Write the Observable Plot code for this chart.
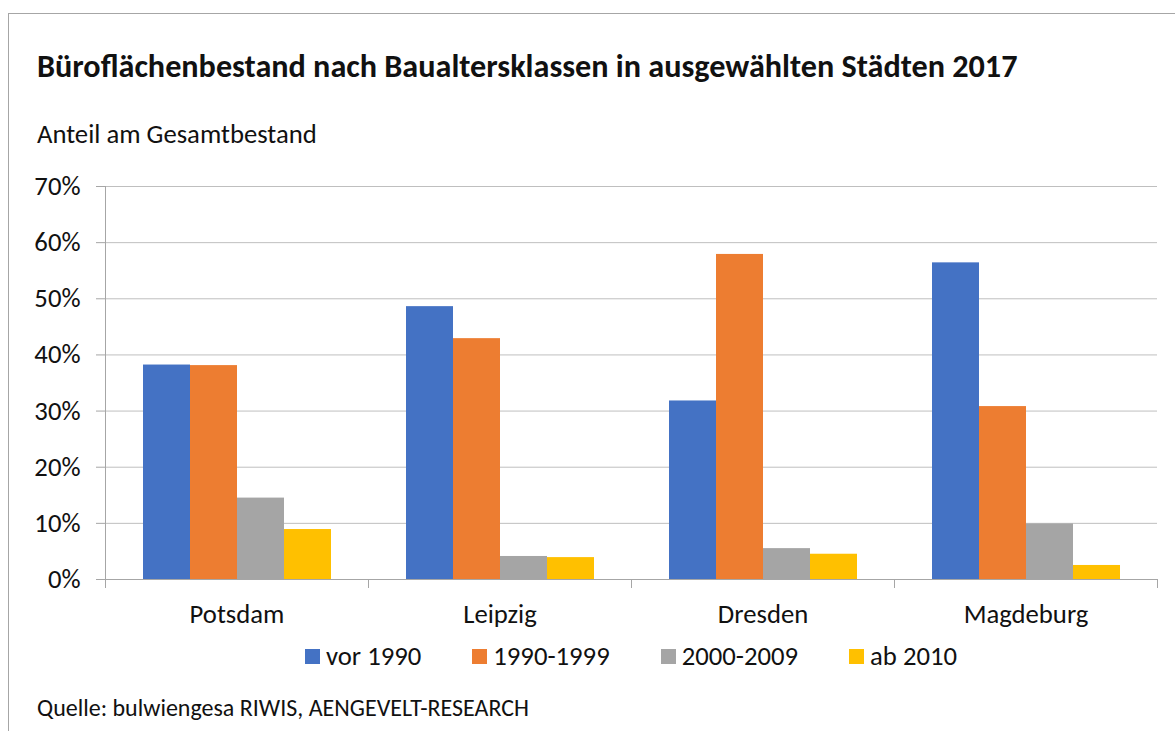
<!DOCTYPE html>
<html>
<head>
<meta charset="utf-8">
<script src="https://cdn.jsdelivr.net/npm/d3@7"></script>
<script src="https://cdn.jsdelivr.net/npm/@observablehq/plot@0.6"></script>
<style>
  html, body { margin: 0; padding: 0; background: #fff; overflow: hidden; }
  body { width: 1175px; height: 731px; position: relative; font-family: Carlito, Lato, sans-serif; color: #111; }
  #frame { position: absolute; left: 8px; top: 13px; width: 1300px; height: 800px; border-left: 1.5px solid #a6a6a6; border-top: 1.5px solid #a6a6a6; }
  #title { position: absolute; left: 37px; top: 50px; font-size: 32.2px; font-weight: 700; line-height: 1; white-space: nowrap; }
  #subtitle { position: absolute; left: 37px; top: 121px; font-size: 26.7px; line-height: 1; white-space: nowrap; }
  #chart { position: absolute; left: 0; top: 170px; }
  #legend { position: absolute; left: 105px; width: 1052px; top: 642.5px; display: flex; justify-content: center; gap: 51px; font-size: 26.7px; line-height: 1; }
  #legend .item { display: flex; align-items: center; gap: 6px; white-space: nowrap; }
  #legend .sw { width: 15px; height: 15px; display: inline-block; margin-top: 2px; }
  #caption { position: absolute; left: 37px; top: 696px; font-size: 24px; line-height: 1; white-space: nowrap; }
</style>
</head>
<body>
<div id="frame"></div>
<div id="title">Büroflächenbestand nach Baualtersklassen in ausgewählten Städten 2017</div>
<div id="subtitle">Anteil am Gesamtbestand</div>
<div id="chart"></div>
<div id="legend"></div>
<div id="caption">Quelle: bulwiengesa RIWIS, AENGEVELT-RESEARCH</div>
<script>
const cities = ["Potsdam", "Leipzig", "Dresden", "Magdeburg"];
const series = ["vor 1990", "1990-1999", "2000-2009", "ab 2010"];
const colors = ["#4472C4", "#ED7D31", "#A5A5A5", "#FFC000"];
const vor1990 = [38.2, 48.6, 31.8, 56.4];
const s1990_1999 = [38.1, 42.9, 57.9, 30.8];
const s2000_2009 = [14.5, 4.1, 5.5, 9.9];
const ab2010 = [8.9, 3.9, 4.5, 2.5];
const yTicks = [0, 10, 20, 30, 40, 50, 60, 70];

const seriesValues = [vor1990, s1990_1999, s2000_2009, ab2010];
const data = [];
cities.forEach((c, i) => series.forEach((s, j) => data.push({ city: c, series: s, value: seriesValues[j][i] })));

const W = 1175, H = 470, mL = 105, mR = 18, mT = 16, mB = 61;
const step = (W - mL - mR) / cities.length;
const axisColor = "#a6a6a6";
const gridColor = "#bfbfbf";
const fs = 26.7;

const chart = Plot.plot({
  width: W, height: H,
  marginLeft: mL, marginRight: mR, marginTop: mT, marginBottom: mB,
  style: { fontFamily: "Carlito, Lato, sans-serif", fontSize: fs + "px", color: "#111", background: "transparent", overflow: "visible" },
  fx: { domain: cities, padding: 0, label: null },
  x: { domain: series, paddingInner: 0, paddingOuter: 0.79, axis: null },
  y: { domain: [0, 70], axis: null },
  color: { domain: series, range: colors },
  marks: [
    Plot.gridY(yTicks, { stroke: gridColor, strokeOpacity: 1 }),
    Plot.barY(data, { fx: "city", x: "series", y: "value", fill: "series" }),
    Plot.ruleY([0], { stroke: axisColor }),
    Plot.frame({ anchor: "left", facetAnchor: "left", stroke: axisColor }),
    Plot.axisY(yTicks, { anchor: "left", tickSize: 9, tickPadding: 16, stroke: axisColor, fill: "#111", fontSize: fs, tickFormat: d => d + "%", label: null }),
    Plot.axisFx({ anchor: "bottom", tickSize: 0, tickPadding: 24.3, fontSize: fs, fill: "#111", label: null }),
    Plot.axisFx({ anchor: "bottom", tickSize: 9, tickFormat: () => "", stroke: axisColor, dx: -step / 2, label: null }),
    Plot.axisFx([cities[cities.length - 1]], { anchor: "bottom", tickSize: 9, tickFormat: () => "", stroke: axisColor, dx: step / 2, label: null })
  ]
});
document.getElementById("chart").appendChild(chart);

const legend = document.getElementById("legend");
series.forEach((s, j) => {
  const item = document.createElement("div");
  item.className = "item";
  const sw = document.createElement("span");
  sw.className = "sw";
  sw.style.background = colors[j];
  const t = document.createElement("span");
  t.textContent = s;
  item.appendChild(sw); item.appendChild(t);
  legend.appendChild(item);
});
</script>
</body>
</html>
